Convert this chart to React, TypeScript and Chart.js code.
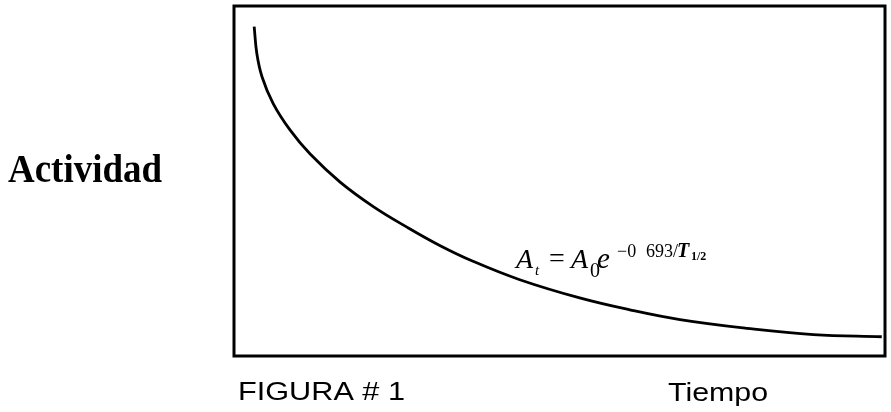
import React, { useEffect, useRef } from "react";
import { Chart, registerables } from "chart.js";

Chart.register(...registerables);

// Decay curve: time (arbitrary units) vs. activity (% of initial)
const tiempo = [0.31, 0.35, 0.43, 0.6, 0.86, 1.17, 1.63, 2.14, 2.65, 3.16, 3.68, 4.39, 5.31, 6.08, 6.85, 7.88, 8.9, 9.95];
const actividad = [94.1, 86.5, 79.8, 72.2, 64.6, 57.7, 49.7, 42.7, 36.9, 31.6, 27.0, 21.8, 16.6, 13.2, 10.4, 7.9, 6.1, 5.5];

const yLabel = "Actividad";
const xLabel = "Tiempo";
const figureLabel = "FIGURA # 1";

const W = 891;
const H = 412;

// Draw text stretched/compressed horizontally so it spans a given width
function fitText(ctx: CanvasRenderingContext2D, text: string, x: number, y: number, width: number) {
  const m = ctx.measureText(text).width;
  ctx.save();
  ctx.translate(x, y);
  ctx.scale(width / m, 1);
  ctx.fillText(text, 0, 0);
  ctx.restore();
}

const framePlugin = {
  id: "frameAndLabels",
  afterDraw(chart: any) {
    const { ctx, chartArea } = chart;
    const { left, top, right, bottom } = chartArea;
    ctx.save();
    // frame around plot
    ctx.strokeStyle = "#000";
    ctx.lineWidth = 3;
    ctx.strokeRect(left, top, right - left, bottom - top);

    ctx.fillStyle = "#000";
    ctx.textBaseline = "alphabetic";
    ctx.textAlign = "left";

    // axis titles
    ctx.font = "bold 40px 'Liberation Serif', serif";
    fitText(ctx, yLabel, 8, 182, 154);
    ctx.font = "25px 'Liberation Sans', Arial, sans-serif";
    fitText(ctx, figureLabel, left + 4, bottom + 44, 167);
    fitText(ctx, xLabel, 668, bottom + 45, 100);

    // equation A_t = A_0 e^{-0 693/T_1/2}
    const serif = "'Liberation Serif', serif";
    const base = 268;
    ctx.font = `italic 28px ${serif}`;
    ctx.fillText("A", 516, base);
    ctx.font = `italic 15px ${serif}`;
    ctx.fillText("t", 535, base + 7);
    ctx.font = `28px ${serif}`;
    ctx.fillText("=", 549, base - 1);
    ctx.font = `italic 28px ${serif}`;
    ctx.fillText("A", 571, base);
    ctx.font = `20px ${serif}`;
    ctx.fillText("0", 590, base + 9);
    ctx.font = `italic 29px ${serif}`;
    ctx.fillText("e", 597, base);
    ctx.font = `18px ${serif}`;
    ctx.fillText("\u22120", 617, base - 11);
    ctx.fillText("693/", 646, base - 11);
    ctx.font = `italic bold 20px ${serif}`;
    ctx.fillText("T", 677, base - 11);
    ctx.font = `bold 12px ${serif}`;
    ctx.fillText("1/2", 691, base - 8);
    ctx.restore();
  },
};

export default function App() {
  const ref = useRef<HTMLCanvasElement | null>(null);

  useEffect(() => {
    document.body.style.margin = "0";
    const canvas = ref.current;
    if (!canvas) return;
    const chart = new Chart(canvas, {
      type: "line",
      data: {
        datasets: [
          {
            data: tiempo.map((t, i) => ({ x: t, y: actividad[i] })),
            borderColor: "#000",
            borderWidth: 2.8,
            pointRadius: 0,
            tension: 0.4,
            fill: false,
          },
        ],
      },
      options: {
        animation: false,
        responsive: false,
        devicePixelRatio: 1,
        layout: { padding: { left: 234, top: 6, right: 6, bottom: 56 } },
        plugins: { legend: { display: false }, tooltip: { enabled: false } },
        scales: {
          x: { type: "linear", min: 0, max: 10, display: false },
          y: { type: "linear", min: 0, max: 100, display: false },
        },
      },
      plugins: [framePlugin],
    });
    return () => chart.destroy();
  }, []);

  return (
    <div style={{ position: "absolute", left: 0, top: 0, width: W, height: H, background: "#fff" }}>
      <canvas ref={ref} width={W} height={H} />
    </div>
  );
}
